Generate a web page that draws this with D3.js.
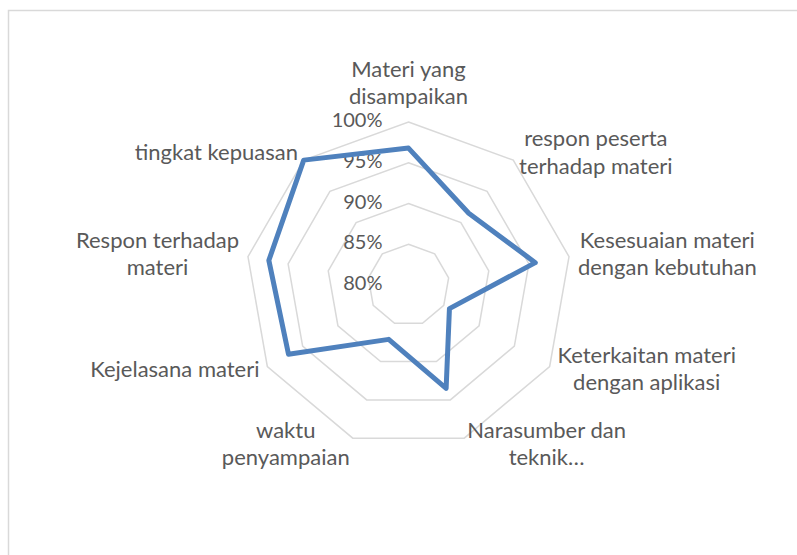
<!DOCTYPE html>
<html><head><meta charset="utf-8">
<script src="https://cdn.jsdelivr.net/npm/d3@7"></script>
<style>html,body{margin:0;padding:0;background:#fff;}svg{display:block;}</style>
</head><body>
<svg id="chart" width="797" height="555"></svg>
<script>
const categories = [
  ["Materi yang", "disampaikan"],
  ["respon peserta", "terhadap materi"],
  ["Kesesuaian materi", "dengan kebutuhan"],
  ["Keterkaitan materi", "dengan aplikasi"],
  ["Narasumber dan", "teknik…"],
  ["waktu", "penyampaian"],
  ["Kejelasana materi"],
  ["Respon terhadap", "materi"],
  ["tingkat kepuasan"]
];
const values = [96.8, 91.5, 95.8, 85.8, 93.5, 87.1, 97.0, 97.4, 100.0];
const tickValues = [80, 85, 90, 95, 100];
const tickLabels = ["80%", "85%", "90%", "95%", "100%"];

const svg = d3.select("#chart");
const cx = 408.5, cy = 285, R = 163;
const font = "Lato, 'Noto Sans', sans-serif";
const textColor = "#595959";

svg.append("rect").attr("x", 8.5).attr("y", 10.5).attr("width", 800).attr("height", 560)
  .attr("fill", "#fff").attr("stroke", "#d9d9d9").attr("stroke-width", 1.5);

const r = d3.scaleLinear().domain([80, 100]).range([0, R]);
const n = categories.length;
const ang = d3.scaleLinear().domain([0, n]).range([0, 2 * Math.PI]);
const pt = (i, v) => {
  const a = ang(i), rr = r(v);
  return [cx + rr * Math.sin(a), cy - rr * Math.cos(a)];
};

const g = svg.append("g");
// grid rings
tickValues.filter(t => r(t) > 0).forEach(t => {
  g.append("path")
    .attr("d", d3.line()(d3.range(n).map(i => pt(i, t))) + "Z")
    .attr("fill", "none").attr("stroke", "#d9d9d9").attr("stroke-width", 1.5);
});

// tick labels
g.selectAll("text.tick").data(tickValues).join("text")
  .attr("class", "tick")
  .attr("x", cx - 26).attr("y", d => cy - r(d))
  .attr("text-anchor", "end").attr("dominant-baseline", "middle")
  .attr("font-family", font).attr("font-size", 20).attr("fill", textColor)
  .text((d, i) => tickLabels[i]);

// series line
g.append("path")
  .attr("d", d3.line()(values.map((v, i) => pt(i, v))) + "Z")
  .attr("fill", "none").attr("stroke", "#4f81bd").attr("stroke-width", 5)
  .attr("stroke-linejoin", "round");

// category labels
const lh = 27.5;
categories.forEach((lines, i) => {
  const a = ang(i), s = Math.sin(a), c = Math.cos(a);
  const [vx, vy] = pt(i, 100);
  const t = g.append("text")
    .attr("font-family", font).attr("font-size", 22).attr("fill", textColor)
    .attr("text-anchor", "middle").attr("dominant-baseline", "middle");
  const spans = lines.map((l, k) => t.append("tspan").text(l));
  const w = d3.max(spans, sp => sp.node().getComputedTextLength());
  const h = lines.length * lh;
  let bx, byc;
  if (Math.abs(s) < 0.01) {
    bx = vx;
    byc = vy - 10 - h / 2;
  } else {
    const edge = vx + 9 * s;
    bx = edge + Math.sign(s) * w / 2;
    byc = vy - 8 * c;
  }
  spans.forEach((sp, k) => {
    sp.attr("x", bx).attr("y", byc - (lines.length - 1) * lh / 2 + k * lh);
  });
});
</script>
</body></html>
